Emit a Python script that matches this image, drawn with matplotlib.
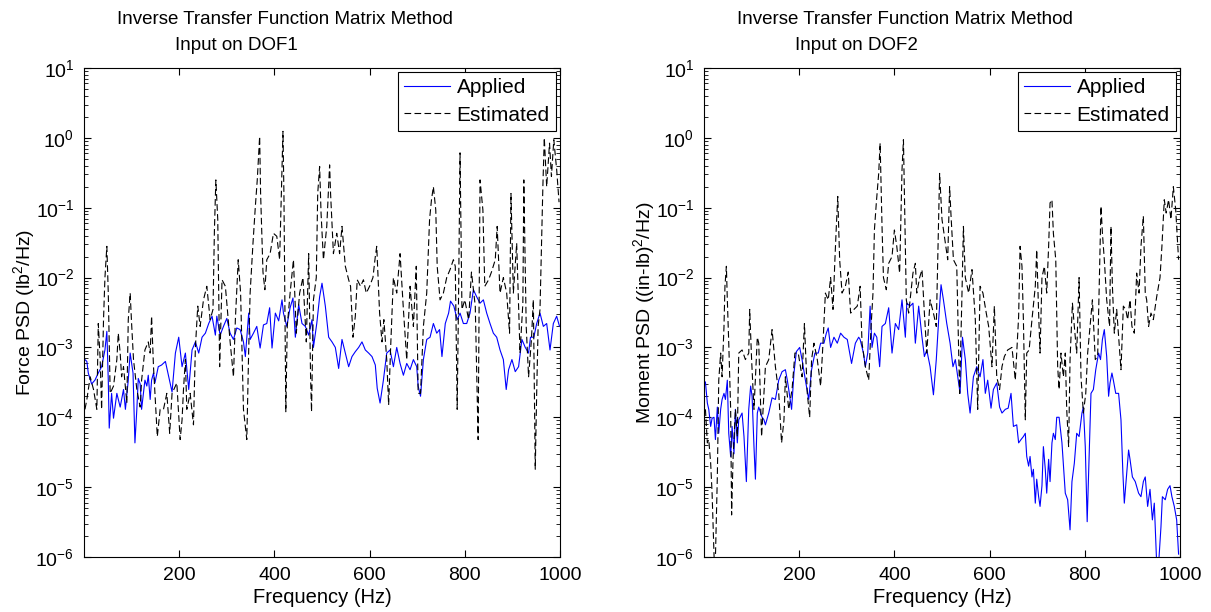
import matplotlib
matplotlib.use("Agg")
import matplotlib.pyplot as plt
from matplotlib.ticker import LogLocator, FixedLocator, NullFormatter

plt.rcParams['font.family'] = ['Liberation Sans', 'DejaVu Sans']
plt.rcParams['mathtext.default'] = 'regular'

# (frequency Hz, PSD) pairs
dof1_applied = [
    (2, 6.7e-4), (6, 6.3e-4), (9, 4.3e-4), (16, 3.0e-4), (23, 3.4e-4), (30, 4.3e-4), (37, 5.3e-4),
    (44, 9.2e-4), (48, 1.7e-3), (51, 3.4e-4), (53, 7.0e-5), (58, 2.2e-4), (62, 9.7e-5), (69, 2.2e-4),
    (76, 1.4e-4), (83, 2.5e-4), (87, 1.3e-4), (93, 3.4e-4), (97, 8.3e-4), (103, 4.3e-4), (107, 4.3e-5),
    (111, 1.3e-4), (114, 3.6e-4), (118, 3.0e-4), (121, 1.3e-4), (128, 3.4e-4), (132, 2.8e-4), (135, 4.0e-4),
    (139, 1.8e-4), (142, 3.4e-4), (146, 4.3e-4), (149, 3.1e-4), (156, 5.3e-4), (163, 5.6e-4), (171, 6.3e-4),
    (178, 3.8e-4), (185, 2.3e-4), (192, 8.3e-4), (199, 1.4e-3), (206, 5.3e-4), (213, 8.3e-4), (220, 2.5e-4),
    (227, 9.2e-4), (234, 1.2e-3), (241, 8.3e-4), (248, 1.4e-3), (255, 1.6e-3), (262, 2.2e-3), (269, 2.8e-3),
    (276, 1.5e-3), (279, 2.8e-3), (286, 1.5e-3), (293, 2.0e-3), (300, 2.6e-3), (307, 1.6e-3), (314, 1.3e-3),
    (321, 1.9e-3), (328, 1.8e-3), (335, 1.2e-3), (339, 7.4e-4), (346, 3.1e-3), (349, 1.3e-3), (356, 1.6e-3),
    (363, 2.0e-3), (370, 9.8e-4), (377, 2.1e-3), (384, 2.2e-3), (390, 3.7e-3), (395, 9.8e-4), (402, 3.1e-3),
    (409, 2.4e-3), (416, 4.8e-3), (419, 3.1e-3), (426, 2.0e-3), (433, 3.7e-3), (439, 5.1e-3), (444, 1.4e-3),
    (451, 4.1e-3), (458, 2.2e-3), (465, 2.0e-3), (472, 1.5e-3), (479, 2.5e-3), (482, 1.0e-3), (489, 2.2e-3),
    (495, 5.3e-3), (500, 8.3e-3), (507, 3.9e-3), (514, 1.4e-3), (521, 1.2e-3), (528, 1.0e-3), (535, 5.0e-4),
    (542, 1.3e-3), (549, 8.3e-4), (556, 5.3e-4), (563, 7.4e-4), (570, 8.7e-4), (577, 1.0e-3), (584, 1.2e-3),
    (591, 9.2e-4), (598, 8.3e-4), (605, 7.4e-4), (612, 5.6e-4), (616, 2.6e-4), (622, 1.6e-4), (629, 3.4e-4),
    (636, 8.3e-4), (643, 9.2e-4), (650, 5.3e-4), (657, 1.0e-3), (664, 5.9e-4), (671, 4.0e-4), (678, 5.9e-4),
    (685, 4.8e-4), (692, 6.7e-4), (699, 5.3e-4), (702, 2.8e-4), (707, 2.0e-4), (713, 6.7e-4), (720, 1.3e-3),
    (727, 1.4e-3), (734, 2.2e-3), (741, 1.6e-3), (747, 1.8e-3), (752, 7.4e-4), (759, 2.2e-3), (766, 3.1e-3),
    (770, 4.6e-3), (777, 3.9e-3), (784, 2.5e-3), (790, 3.1e-3), (797, 2.2e-3), (804, 2.2e-3), (811, 3.1e-3),
    (818, 6.7e-3), (825, 5.3e-3), (832, 4.3e-3), (839, 4.8e-3), (846, 3.1e-3), (853, 2.2e-3), (860, 1.6e-3),
    (867, 1.4e-3), (874, 9.2e-4), (881, 6.7e-4), (887, 2.5e-4), (892, 4.8e-4), (899, 6.7e-4), (906, 4.5e-4),
    (913, 5.3e-4), (920, 1.3e-3), (927, 1.0e-3), (934, 8.3e-4), (938, 1.4e-3), (945, 1.4e-3), (951, 2.2e-3),
    (958, 3.1e-3), (965, 2.0e-3), (972, 2.2e-3), (979, 9.2e-4), (986, 2.2e-3), (993, 2.8e-3), (999, 2.0e-3),
]

dof1_estimated = [
    (2, 1.3e-4), (6, 1.8e-4), (13, 3.8e-4), (20, 2.5e-4), (27, 1.3e-4), (30, 2.2e-3), (34, 6.7e-4),
    (37, 1.3e-4), (41, 2.5e-3), (44, 1.0e-2), (48, 2.8e-2), (51, 6.0e-3), (55, 2.2e-4), (62, 2.8e-4),
    (69, 6.7e-4), (72, 1.6e-3), (76, 8.3e-4), (79, 3.8e-4), (83, 5.3e-4), (90, 1.6e-4), (93, 2.5e-3),
    (97, 6.0e-3), (100, 2.2e-3), (104, 6.7e-4), (111, 2.5e-4), (118, 1.4e-4), (121, 3.4e-4), (128, 9.2e-4),
    (135, 1.2e-3), (139, 8.3e-4), (142, 2.8e-3), (146, 5.3e-4), (152, 9.2e-5), (154, 5.3e-5), (160, 1.3e-4),
    (167, 1.3e-4), (174, 2.2e-4), (180, 5.9e-5), (185, 2.2e-4), (192, 2.8e-4), (195, 3.1e-4), (202, 4.8e-5),
    (206, 9.2e-5), (209, 2.5e-4), (213, 6.7e-4), (216, 1.3e-4), (223, 2.2e-4), (230, 7.8e-5), (234, 1.0e-3),
    (239, 3.9e-3), (244, 2.0e-3), (251, 4.8e-3), (258, 7.5e-3), (265, 2.5e-3), (271, 3.5e-3), (274, 4.8e-2),
    (277, 0.25), (281, 6.8e-2), (285, 5.3e-4), (290, 9.3e-3), (297, 7.5e-3), (300, 4.3e-3), (307, 1.2e-3),
    (314, 3.8e-4), (318, 2.5e-3), (324, 1.8e-2), (329, 6.0e-3), (335, 1.3e-4), (342, 4.8e-5), (346, 9.2e-4),
    (349, 6.0e-3), (355, 3.1e-2), (360, 0.105), (364, 0.25), (369, 1.05), (371, 0.16), (376, 1.2e-2),
    (380, 6.7e-3), (384, 1.8e-2), (391, 2.2e-2), (398, 4.3e-2), (405, 3.9e-2), (411, 1.8e-2), (416, 0.39),
    (418, 1.24), (420, 0.16), (424, 1.2e-4), (427, 2.0e-3), (433, 6.0e-3), (440, 1.8e-2), (446, 1.6e-3),
    (453, 6.0e-3), (460, 1.0e-2), (467, 1.2e-3), (472, 2.2e-2), (476, 3.8e-4), (478, 1.2e-4), (482, 4.8e-3),
    (488, 1.0e-2), (491, 0.16), (495, 0.39), (498, 8.4e-2), (503, 1.8e-2), (510, 5.4e-2), (516, 0.41),
    (518, 0.16), (524, 2.2e-2), (531, 4.3e-2), (537, 2.2e-2), (542, 5.4e-2), (549, 1.45e-2), (556, 9.3e-3),
    (560, 7.5e-3), (565, 1.4e-3), (570, 2.8e-3), (574, 9.3e-3), (581, 7.5e-3), (587, 9.3e-3), (593, 6.0e-3),
    (600, 7.5e-3), (607, 1.0e-2), (612, 2.0e-2), (615, 2.8e-2), (621, 3.1e-3), (626, 1.2e-3), (630, 2.5e-3),
    (636, 6.7e-4), (640, 1.5e-4), (644, 9.2e-4), (650, 1.0e-2), (657, 6.0e-3), (664, 2.2e-2), (671, 3.5e-3),
    (678, 6.7e-4), (685, 7.5e-3), (692, 2.0e-3), (698, 1.45e-2), (702, 2.2e-4), (707, 2.2e-4), (713, 2.0e-3),
    (720, 6.0e-3), (726, 6.8e-2), (730, 0.13), (734, 0.20), (739, 9.3e-2), (742, 1.45e-2), (748, 4.8e-3),
    (755, 6.0e-3), (762, 1.0e-2), (769, 1.3e-2), (776, 1.8e-2), (780, 1.45e-2), (784, 1.3e-4), (787, 6.0e-3),
    (790, 0.61), (794, 3.5e-3), (800, 4.8e-3), (808, 2.5e-3), (814, 1.2e-2), (822, 3.9e-3), (828, 4.8e-5),
    (832, 0.25), (838, 9.3e-2), (842, 7.5e-3), (850, 9.3e-3), (856, 1.2e-2), (864, 1.8e-2), (868, 5.4e-2),
    (874, 6.0e-3), (881, 1.0e-2), (888, 6.0e-3), (894, 1.6e-3), (897, 0.16), (902, 6.0e-3), (909, 3.1e-2),
    (916, 8.3e-4), (922, 4.3e-3), (924, 0.25), (929, 2.0e-3), (934, 3.8e-4), (940, 1.3e-3), (944, 4.8e-3),
    (948, 1.8e-5), (951, 2.2e-4), (954, 2.0e-3), (958, 3.5e-3), (964, 0.20), (967, 1.0), (972, 0.20),
    (978, 0.84), (982, 0.28), (987, 0.94), (993, 0.35), (998, 0.12),
]

dof2_applied = [
    (3, 3.2e-4), (7, 1.6e-4), (10, 1.3e-4), (14, 7.4e-5), (17, 9.7e-5), (21, 1.0e-4), (24, 4.8e-5),
    (28, 1.4e-4), (31, 5.9e-5), (35, 1.3e-4), (38, 1.8e-4), (42, 2.2e-4), (45, 1.8e-4), (49, 3.4e-4),
    (52, 5.9e-5), (56, 2.75e-5), (59, 7.4e-5), (63, 3.0e-5), (66, 1.3e-4), (70, 4.3e-5), (73, 9.2e-5),
    (80, 1.15e-4), (84, 5.3e-5), (89, 1.2e-5), (94, 1.3e-4), (98, 2.8e-4), (101, 2.0e-4), (105, 3.8e-5),
    (108, 1.3e-5), (112, 1.15e-4), (115, 1.4e-4), (119, 1.15e-4), (122, 1.0e-4), (126, 9.2e-5), (129, 7.8e-5),
    (136, 1.15e-4), (143, 1.9e-4), (150, 1.8e-4), (157, 3.4e-4), (164, 4.5e-4), (171, 4.8e-4), (175, 3.4e-4),
    (178, 2.5e-4), (184, 1.3e-4), (189, 4.3e-4), (194, 8.7e-4), (201, 1.0e-3), (206, 6.7e-4), (213, 3.4e-4),
    (220, 1.8e-4), (226, 4.8e-4), (233, 8.3e-4), (240, 8.3e-4), (245, 1.15e-3), (252, 1.15e-3), (257, 1.6e-3),
    (261, 1.9e-3), (266, 1.0e-3), (273, 1.4e-3), (280, 1.15e-3), (287, 1.6e-3), (294, 1.4e-3), (301, 1.3e-3),
    (310, 5.9e-4), (318, 1.15e-3), (325, 1.4e-3), (328, 1.3e-3), (335, 8.3e-4), (339, 5.3e-4), (344, 8.3e-4),
    (349, 3.9e-3), (353, 1.0e-3), (358, 1.6e-3), (363, 1.4e-3), (369, 5.3e-4), (374, 2.0e-3), (381, 2.2e-3),
    (388, 3.7e-3), (395, 8.3e-4), (402, 2.2e-3), (409, 1.8e-3), (416, 4.8e-3), (423, 1.4e-3), (426, 4.3e-3),
    (433, 3.9e-3), (439, 4.3e-3), (444, 1.15e-3), (451, 3.9e-3), (458, 1.4e-3), (463, 7.4e-4), (468, 9.2e-4),
    (475, 5.3e-4), (482, 2.1e-4), (488, 6.7e-4), (493, 2.5e-3), (498, 7.9e-3), (503, 4.8e-3), (510, 2.2e-3),
    (517, 1.15e-3), (523, 5.3e-4), (528, 6.7e-4), (533, 3.8e-4), (538, 2.2e-4), (543, 1.4e-3), (549, 6.7e-4),
    (554, 2.2e-4), (559, 1.15e-4), (566, 3.8e-4), (573, 5.3e-4), (580, 3.8e-4), (586, 6.7e-4), (591, 2.2e-4),
    (596, 3.4e-4), (603, 1.35e-4), (608, 2.5e-4), (615, 3.1e-4), (621, 1.4e-4), (626, 1.15e-4), (633, 1.3e-4),
    (639, 1.35e-4), (645, 2.2e-4), (650, 7.4e-5), (657, 7.8e-5), (661, 4.3e-5), (666, 4.8e-5), (671, 5.3e-5),
    (675, 5.9e-5), (678, 2.75e-5), (682, 2.0e-5), (685, 2.75e-5), (689, 1.4e-5), (692, 1.8e-5), (696, 5.9e-6),
    (699, 1.3e-5), (703, 7.3e-6), (706, 5.3e-6), (710, 1.05e-5), (713, 3.8e-5), (717, 1.8e-5), (720, 8.2e-6),
    (724, 2.5e-5), (727, 1.2e-5), (731, 4.3e-5), (734, 5.9e-5), (738, 4.8e-5), (741, 1.0e-4), (746, 1.0e-4),
    (752, 4.3e-5), (759, 8.2e-6), (764, 6.6e-6), (769, 2.45e-6), (773, 1.2e-5), (778, 2.2e-5), (783, 5.9e-5),
    (788, 5.3e-5), (794, 1.15e-4), (797, 1.4e-4), (801, 3.8e-5), (805, 3.2e-6), (809, 2.5e-5), (813, 2.2e-4),
    (818, 2.5e-4), (823, 4.8e-4), (829, 8.3e-4), (833, 6.7e-4), (837, 1.3e-3), (841, 1.8e-3), (846, 7.4e-4),
    (850, 2.0e-4), (853, 3.1e-4), (857, 4.3e-4), (860, 3.4e-4), (865, 2.2e-4), (871, 2.2e-4), (876, 9.2e-5),
    (880, 1.6e-5), (883, 5.9e-6), (888, 1.6e-5), (892, 3.4e-5), (895, 2.5e-5), (900, 1.4e-5), (906, 1.2e-5),
    (913, 8.2e-6), (918, 7.3e-6), (923, 1.2e-5), (927, 1.4e-5), (932, 5.3e-6), (937, 9.3e-6), (942, 3.4e-6),
    (946, 5.9e-6), (951, 8.0e-7), (956, 1.0e-6), (960, 2.7e-6), (963, 7.3e-6), (969, 6.6e-6), (974, 9.3e-6),
    (979, 1.05e-5), (983, 7.3e-6), (988, 5.3e-6), (993, 3.4e-6), (997, 1.1e-6),
]

dof2_estimated = [
    (3, 1.3e-4), (7, 4.3e-5), (10, 4.8e-5), (14, 2.2e-5), (17, 8.2e-6), (21, 1.1e-6), (23, 5.0e-7),
    (28, 1.4e-5), (31, 3.4e-4), (35, 8.3e-4), (38, 3.8e-4), (42, 2.0e-3), (44, 7.5e-3), (47, 1.45e-2),
    (49, 4.8e-3), (52, 1.15e-3), (56, 1.3e-4), (58, 4.0e-6), (61, 2.5e-5), (66, 1.3e-4), (70, 5.3e-5),
    (73, 8.3e-4), (80, 9.2e-4), (87, 6.7e-4), (94, 8.3e-4), (96, 3.5e-3), (100, 6.7e-4), (105, 1.3e-4),
    (112, 1.4e-3), (115, 1.15e-3), (121, 5.3e-5), (126, 2.2e-4), (129, 5.3e-4), (136, 6.7e-4), (143, 1.8e-3),
    (150, 5.3e-4), (157, 2.2e-4), (163, 4.3e-5), (168, 9.2e-5), (171, 3.8e-4), (178, 1.3e-4), (185, 2.5e-4),
    (191, 8.3e-4), (198, 8.3e-4), (206, 3.8e-4), (211, 2.2e-3), (217, 2.2e-4), (222, 1.0e-4), (226, 6.7e-4),
    (231, 1.15e-3), (238, 6.7e-4), (245, 2.8e-4), (250, 1.15e-3), (255, 6.0e-3), (261, 4.8e-3), (266, 1.0e-2),
    (271, 3.5e-3), (275, 1.8e-2), (278, 5.4e-2), (281, 0.145), (285, 1.8e-2), (290, 6.0e-3), (297, 7.5e-3),
    (303, 1.2e-2), (308, 3.1e-3), (315, 3.5e-3), (322, 3.9e-3), (328, 7.5e-3), (332, 1.15e-3), (339, 5.3e-4),
    (346, 3.4e-4), (351, 2.0e-3), (355, 6.0e-3), (358, 4.8e-2), (362, 0.117), (367, 0.31), (370, 0.84),
    (374, 5.4e-2), (377, 1.0e-2), (383, 6.7e-3), (388, 1.6e-2), (395, 2.0e-2), (400, 4.8e-2), (405, 2.8e-2),
    (411, 1.16e-2), (416, 0.35), (419, 0.94), (421, 0.16), (425, 4.8e-3), (430, 3.1e-3), (433, 4.8e-3),
    (439, 1.16e-2), (444, 1.6e-2), (447, 6.0e-3), (453, 1.0e-2), (458, 1.3e-2), (463, 3.1e-3), (468, 8.3e-4),
    (475, 4.8e-3), (482, 3.1e-3), (488, 2.0e-3), (491, 1.8e-2), (495, 0.31), (500, 6.8e-2), (507, 3.1e-2),
    (512, 1.8e-2), (516, 0.20), (519, 7.6e-2), (524, 1.8e-2), (531, 1.45e-2), (537, 2.2e-4), (542, 6.0e-3),
    (545, 5.4e-2), (549, 1.0e-2), (556, 6.0e-3), (563, 1.3e-2), (570, 2.5e-3), (575, 1.3e-4), (580, 7.5e-3),
    (586, 6.0e-3), (593, 3.1e-3), (598, 2.0e-3), (605, 5.3e-4), (610, 3.9e-3), (615, 3.8e-4), (621, 2.5e-4),
    (626, 5.3e-4), (631, 7.4e-4), (638, 9.2e-4), (647, 1.0e-3), (654, 3.4e-4), (661, 2.8e-3), (664, 2.8e-2),
    (668, 1.45e-2), (671, 2.5e-3), (675, 9.2e-5), (678, 8.3e-4), (683, 9.2e-4), (689, 2.5e-3), (696, 7.5e-3),
    (699, 2.5e-2), (703, 3.1e-3), (706, 8.3e-4), (710, 1.0e-2), (715, 1.45e-2), (720, 6.0e-3), (724, 2.8e-2),
    (727, 0.117), (731, 0.13), (734, 4.3e-2), (739, 1.8e-2), (743, 5.3e-4), (746, 2.5e-4), (750, 8.3e-4),
    (755, 3.8e-4), (759, 8.3e-4), (762, 1.3e-4), (766, 3.8e-5), (769, 6.7e-4), (774, 4.3e-3), (778, 2.0e-3),
    (783, 8.3e-4), (788, 1.0e-2), (792, 3.8e-4), (797, 1.15e-4), (802, 2.2e-4), (806, 8.3e-4), (811, 2.0e-3),
    (816, 4.8e-3), (822, 6.7e-4), (827, 7.4e-4), (830, 6.0e-3), (834, 0.105), (837, 4.3e-2), (841, 1.8e-2),
    (846, 4.8e-3), (852, 2.0e-3), (855, 5.4e-2), (858, 7.5e-3), (862, 1.6e-3), (867, 3.5e-3), (872, 1.15e-3),
    (876, 4.8e-4), (881, 3.9e-3), (886, 3.5e-3), (890, 2.5e-3), (895, 4.8e-3), (899, 2.0e-3), (904, 1.6e-3),
    (909, 1.16e-2), (914, 6.0e-3), (918, 2.8e-2), (923, 7.6e-2), (927, 6.0e-3), (930, 4.8e-3), (934, 2.0e-3),
    (939, 3.1e-3), (944, 2.5e-3), (951, 5.3e-3), (958, 1.0e-2), (962, 2.8e-2), (967, 0.13), (971, 8.4e-2),
    (976, 0.13), (981, 6.8e-2), (986, 0.20), (991, 9.3e-2), (997, 1.8e-2),
]

panels = [
    (dof1_applied, dof1_estimated, 'Input on DOF1', 'Force PSD (lb$^2$/Hz)'),
    (dof2_applied, dof2_estimated, 'Input on DOF2', 'Moment PSD ((in-lb)$^2$/Hz)'),
]
x_ticks = [200, 400, 600, 800, 1000]
y_ticks = [1e-6, 1e-5, 1e-4, 1e-3, 1e-2, 1e-1, 1e0, 1e1]

W, H = 1211, 612
fig = plt.figure(figsize=(W / 100, H / 100), dpi=100)

for i, (applied, estimated, subtitle, ylabel) in enumerate(panels):
    left = 84 + i * 620
    ax = fig.add_axes([left / W, 55 / H, 476 / W, 489 / H])

    fa, pa = zip(*applied)
    fe, pe = zip(*estimated)
    ax.semilogy(fa, pa, color='#0000ff', lw=0.8, label='Applied')
    ax.semilogy(fe, pe, color='black', lw=0.8, ls=(0, (6, 3)), label='Estimated')

    ax.set_xlim(0, 1000)
    ax.set_ylim(1e-6, 1e1)
    ax.xaxis.set_major_locator(FixedLocator(x_ticks))
    ax.yaxis.set_major_locator(FixedLocator(y_ticks))
    ax.yaxis.set_minor_locator(LogLocator(base=10, subs=range(2, 10), numticks=20))
    ax.yaxis.set_minor_formatter(NullFormatter())
    ax.tick_params(which='both', direction='in', top=True, right=True, labelsize=14, pad=7)
    ax.tick_params(which='major', length=5, width=0.8)
    ax.tick_params(which='minor', length=3, width=0.6)
    for s in ax.spines.values():
        s.set_linewidth(0.8)

    ax.set_xlabel('Frequency (Hz)', fontsize=14.5, labelpad=3)
    ax.set_ylabel(ylabel, fontsize=14)
    ax.yaxis.set_label_coords(-0.098, 0.5)

    leg = ax.legend(loc='upper right', fontsize=15, fancybox=False, framealpha=1,
                    edgecolor='black', handlelength=2.2, borderaxespad=0.2,
                    borderpad=0.3, labelspacing=0.4, handletextpad=0.3)
    leg.get_frame().set_linewidth(0.8)

    # two-line title, second line offset as in the original
    fig.text((left + 201) / W, 1 - 20 / H, 'Inverse Transfer Function Matrix Method',
             ha='center', va='center', fontsize=13.5)
    fig.text((left + 91) / W, 1 - 45 / H, subtitle, ha='left', va='center', fontsize=13.5)

fig.savefig('out.png', dpi=100)
